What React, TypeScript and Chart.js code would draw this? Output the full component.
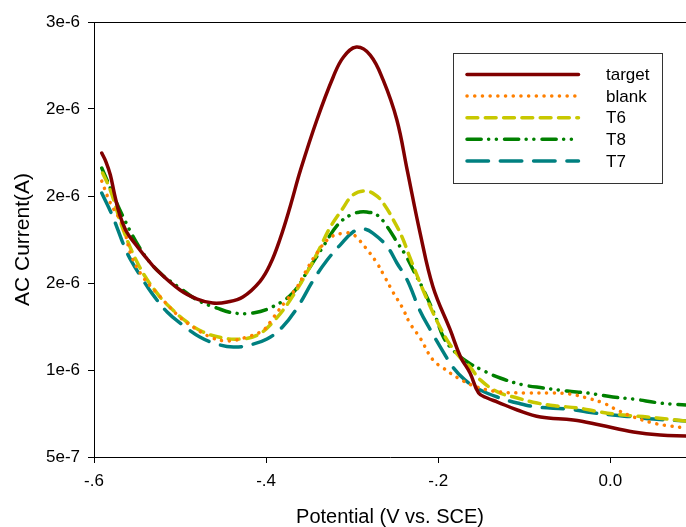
import React, { useEffect, useRef } from 'react';
import { Chart, registerables } from 'chart.js';

Chart.register(...registerables);

// Series labels (legend order)
const seriesLabels = ['target', 'blank', 'T6', 'T8', 'T7'];

// Potentials (V vs. SCE) and AC currents (in units of 1e-6 A)
const targetV = [-0.591, -0.586, -0.581, -0.576, -0.570, -0.562, -0.552, -0.541, -0.527, -0.500, -0.480, -0.462, -0.445, -0.427, -0.407, -0.395, -0.384, -0.372, -0.360, -0.341, -0.322, -0.310, -0.295, -0.279, -0.264, -0.248, -0.236, -0.221, -0.206, -0.186, -0.174, -0.163, -0.153, -0.143, -0.131, -0.108, -0.081, -0.043, -0.012, 0.027, 0.058, 0.088];
const targetI = [2.247, 2.195, 2.121, 2.006, 1.891, 1.793, 1.724, 1.655, 1.575, 1.460, 1.408, 1.385, 1.391, 1.420, 1.510, 1.610, 1.750, 1.940, 2.149, 2.437, 2.684, 2.799, 2.856, 2.810, 2.667, 2.437, 2.149, 1.787, 1.477, 1.230, 1.075, 0.983, 0.868, 0.839, 0.816, 0.770, 0.730, 0.713, 0.684, 0.644, 0.626, 0.621];

const blankV = [-0.591, -0.581, -0.567, -0.556, -0.543, -0.527, -0.503, -0.485, -0.462, -0.444, -0.422, -0.403, -0.392, -0.378, -0.364, -0.355, -0.341, -0.326, -0.310, -0.300, -0.293, -0.285, -0.272, -0.262, -0.252, -0.242, -0.233, -0.221, -0.206, -0.194, -0.177, -0.155, -0.128, -0.097, -0.070, -0.047, -0.027, -0.008, 0.008, 0.027, 0.050, 0.070, 0.088];
const blankI = [2.086, 1.960, 1.833, 1.649, 1.534, 1.443, 1.316, 1.247, 1.184, 1.167, 1.190, 1.230, 1.299, 1.391, 1.477, 1.557, 1.672, 1.759, 1.787, 1.782, 1.753, 1.707, 1.621, 1.534, 1.443, 1.362, 1.270, 1.184, 1.057, 1.011, 0.954, 0.902, 0.874, 0.868, 0.868, 0.862, 0.839, 0.810, 0.770, 0.730, 0.695, 0.678, 0.667];

const t6V = [-0.590, -0.581, -0.566, -0.547, -0.527, -0.512, -0.492, -0.473, -0.450, -0.430, -0.410, -0.392, -0.372, -0.349, -0.337, -0.326, -0.312, -0.299, -0.285, -0.273, -0.264, -0.252, -0.242, -0.233, -0.221, -0.209, -0.198, -0.186, -0.174, -0.163, -0.151, -0.131, -0.108, -0.085, -0.062, -0.038, -0.012, 0.015, 0.043, 0.066, 0.088];
const t6I = [2.132, 2.034, 1.805, 1.592, 1.443, 1.362, 1.276, 1.218, 1.184, 1.178, 1.201, 1.276, 1.402, 1.592, 1.707, 1.816, 1.920, 2.006, 2.029, 2.006, 1.960, 1.862, 1.764, 1.649, 1.500, 1.362, 1.247, 1.144, 1.069, 1.017, 0.943, 0.874, 0.839, 0.810, 0.793, 0.782, 0.759, 0.741, 0.730, 0.718, 0.707];

const t8V = [-0.591, -0.566, -0.543, -0.523, -0.500, -0.480, -0.457, -0.438, -0.415, -0.393, -0.369, -0.349, -0.334, -0.317, -0.302, -0.291, -0.283, -0.271, -0.259, -0.248, -0.238, -0.229, -0.217, -0.203, -0.194, -0.183, -0.166, -0.149, -0.128, -0.101, -0.078, -0.050, -0.027, 0.003, 0.027, 0.058, 0.088];
const t8I = [2.161, 1.879, 1.672, 1.557, 1.471, 1.402, 1.356, 1.328, 1.328, 1.362, 1.443, 1.592, 1.707, 1.833, 1.891, 1.908, 1.908, 1.891, 1.822, 1.736, 1.661, 1.575, 1.460, 1.305, 1.190, 1.115, 1.046, 1.000, 0.954, 0.914, 0.897, 0.879, 0.868, 0.845, 0.833, 0.810, 0.799];

const t7V = [-0.591, -0.579, -0.573, -0.564, -0.556, -0.543, -0.533, -0.515, -0.497, -0.477, -0.457, -0.438, -0.419, -0.399, -0.381, -0.364, -0.345, -0.329, -0.314, -0.299, -0.287, -0.276, -0.259, -0.248, -0.236, -0.221, -0.209, -0.194, -0.183, -0.169, -0.151, -0.128, -0.108, -0.085, -0.050, -0.027, 0.003, 0.027, 0.050, 0.088];
const t7I = [2.017, 1.891, 1.816, 1.701, 1.621, 1.517, 1.443, 1.333, 1.259, 1.190, 1.149, 1.132, 1.144, 1.178, 1.247, 1.356, 1.517, 1.632, 1.718, 1.793, 1.810, 1.787, 1.707, 1.615, 1.517, 1.339, 1.230, 1.103, 1.017, 0.943, 0.885, 0.839, 0.810, 0.787, 0.776, 0.759, 0.741, 0.730, 0.718, 0.707];

// Axis ticks
const xTickValues = [-0.6, -0.4, -0.2, 0.0];
const xTickLabels = ['-.6', '-.4', '-.2', '0.0'];
const yTickValues = [5e-7, 1e-6, 1.5e-6, 2e-6, 2.5e-6, 3e-6];
const yTickLabels = ['5e-7', '1e-6', '2e-6', '2e-6', '2e-6', '3e-6'];

const FONT = 'Arial, "Liberation Sans", sans-serif';

function toPoints(vs: number[], is: number[]) {
  return vs.map((v, k) => ({ x: v, y: is[k] * 1e-6 }));
}

const legendPlugin = {
  id: 'boxLegend',
  afterDatasetsDraw(chart: any) {
    const ctx = chart.ctx;
    ctx.save();
    const bx = 453.5, by = 53.5, bw = 209, bh = 130;
    ctx.fillStyle = '#ffffff';
    ctx.fillRect(bx, by, bw, bh);
    ctx.strokeStyle = '#333333';
    ctx.lineWidth = 1;
    ctx.strokeRect(bx, by, bw, bh);
    const rowY0 = 74.5, rowStep = 21.6;
    chart.data.datasets.forEach((ds: any, k: number) => {
      const y = rowY0 + k * rowStep;
      ctx.beginPath();
      ctx.setLineDash(ds.borderDash || []);
      ctx.lineDashOffset = 0;
      ctx.lineCap = 'round';
      ctx.lineWidth = ds.borderWidth;
      ctx.strokeStyle = ds.borderColor;
      ctx.moveTo(467, y);
      ctx.lineTo(578.5, y);
      ctx.stroke();
      ctx.setLineDash([]);
      ctx.fillStyle = '#000';
      ctx.font = `17px ${FONT}`;
      ctx.textAlign = 'left';
      ctx.textBaseline = 'middle';
      ctx.fillText(ds.label, 606, y + 1);
    });
    ctx.restore();
  },
};

const frameTopPlugin = {
  id: 'frameTop',
  afterDraw(chart: any) {
    const { ctx, chartArea } = chart;
    ctx.save();
    ctx.strokeStyle = '#000';
    ctx.lineWidth = 1;
    ctx.beginPath();
    ctx.moveTo(chartArea.left, Math.round(chartArea.top) + 0.5);
    ctx.lineTo(chartArea.right, Math.round(chartArea.top) + 0.5);
    ctx.stroke();
    ctx.restore();
  },
};

export default function App() {
  const canvasRef = useRef<HTMLCanvasElement | null>(null);

  useEffect(() => {
    if (!canvasRef.current) return;
    const common = {
      pointRadius: 0,
      pointHoverRadius: 0,
      fill: false,
      tension: 0.4,
      borderCapStyle: 'round' as const,
      borderJoinStyle: 'round' as const,
      borderWidth: 3.5,
    };
    const datasets = [
      { ...common, label: seriesLabels[0], data: toPoints(targetV, targetI), borderColor: '#800000', borderDash: [] as number[] },
      { ...common, label: seriesLabels[1], data: toPoints(blankV, blankI), borderColor: '#FF8000', borderDash: [0.1, 7.6] },
      { ...common, label: seriesLabels[2], data: toPoints(t6V, t6I), borderColor: '#C8C800', borderDash: [10.8, 7.5] },
      { ...common, label: seriesLabels[3], data: toPoints(t8V, t8I), borderColor: '#008000', borderDash: [14.2, 7.4, 0.1, 7.6, 0.1, 8.1] },
      { ...common, label: seriesLabels[4], data: toPoints(t7V, t7I), borderColor: '#008080', borderDash: [21.5, 11.8] },
    ];

    const chart = new Chart(canvasRef.current, {
      type: 'line',
      data: { datasets },
      plugins: [legendPlugin, frameTopPlugin],
      options: {
        animation: false,
        responsive: false,
        devicePixelRatio: 1,
        layout: { padding: { left: 0, right: 0, top: 22, bottom: 0 } },
        plugins: { legend: { display: false }, tooltip: { enabled: false } },
        scales: {
          x: {
            type: 'linear',
            min: -0.6,
            max: 0.088,
            afterBuildTicks: (scale: any) => {
              scale.ticks = xTickValues.map((v) => ({ value: v }));
            },
            afterFit: (scale: any) => {
              scale.height = 70;
            },
            ticks: {
              color: '#000',
              font: { family: FONT, size: 17 },
              padding: 8,
              maxRotation: 0,
              autoSkip: false,
              callback: (_v: any, index: number) => xTickLabels[index],
            },
            grid: { display: true, drawOnChartArea: false, drawTicks: true, tickLength: 6, color: '#000', lineWidth: 1 },
            border: { display: true, color: '#000', width: 1 },
            title: {
              display: true,
              text: 'Potential (V vs. SCE)',
              color: '#000',
              font: { family: FONT, size: 20, lineHeight: 1 },
              padding: { top: 0, bottom: 0 },
            },
          },
          y: {
            type: 'linear',
            min: 5e-7,
            max: 3e-6,
            afterBuildTicks: (scale: any) => {
              scale.ticks = yTickValues.map((v) => ({ value: v }));
            },
            afterFit: (scale: any) => {
              scale.width = 94;
            },
            ticks: {
              color: '#000',
              font: { family: FONT, size: 17 },
              padding: 8,
              autoSkip: false,
              callback: (_v: any, index: number) => yTickLabels[index],
            },
            grid: { display: true, drawOnChartArea: false, drawTicks: true, tickLength: 6, color: '#000', lineWidth: 1 },
            border: { display: true, color: '#000', width: 1 },
            title: {
              display: true,
              text: 'AC Current(A)',
              color: '#000',
              font: { family: FONT, size: 21, lineHeight: 1.2 },
              padding: { top: 11, bottom: 0 },
            },
          },
        },
      },
    } as any);

    return () => chart.destroy();
  }, []);

  return (
    <div style={{ position: 'fixed', left: 0, top: 0, width: 686, height: 527, background: '#fff' }}>
      <canvas ref={canvasRef} width={686} height={527} style={{ display: 'block' }} />
    </div>
  );
}
